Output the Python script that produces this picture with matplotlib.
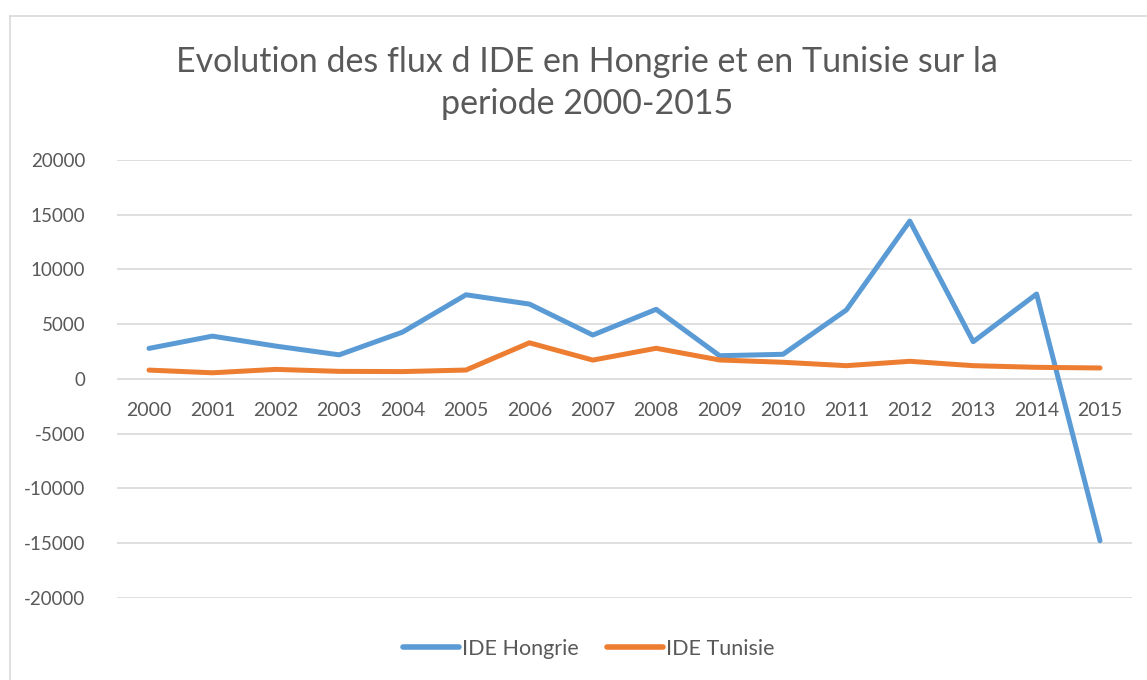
import numpy as np
import matplotlib.pyplot as plt
from matplotlib.lines import Line2D

plt.rcParams['font.family'] = ['Lato', 'DejaVu Sans']

annees = [str(a) for a in range(2000, 2016)]
ide_hongrie = [2780, 3900, 2990, 2190, 4270, 7680, 6830, 4000,
               6350, 2110, 2240, 6290, 14420, 3390, 7750, -14800]
ide_tunisie = [795, 550, 860, 680, 660, 800, 3290, 1710,
               2790, 1720, 1510, 1200, 1600, 1200, 1050, 990]
yticks = list(range(-20000, 20001, 5000))

gris = '#595959'
fig = plt.figure(figsize=(11.47, 6.80), dpi=100)
ax = fig.add_axes([117.3 / 1147, 1 - 597.6 / 680, (1131.7 - 117.3) / 1147, (597.6 - 160) / 680])

x = np.arange(len(annees))
ax.plot(x, ide_hongrie, color='#5B9BD5', lw=3.6, solid_joinstyle='round', solid_capstyle='round', label='IDE Hongrie', zorder=3)
ax.plot(x, ide_tunisie, color='#ED7D31', lw=3.6, solid_joinstyle='round', solid_capstyle='round', label='IDE Tunisie', zorder=3)

ax.set_xlim(-0.5, len(annees) - 0.5)
ax.set_ylim(-20000, 20000)
ax.set_yticks(yticks)
ax.set_yticklabels([str(v) for v in yticks], fontsize=13.5, color=gris)
ax.tick_params(axis='y', length=0, pad=23)
ax.grid(axis='y', color='#D9D9D9', lw=1.2)
ax.set_axisbelow(True)
for s in ax.spines.values():
    s.set_visible(False)

# categories placees sous l'axe zero, comme dans Excel
ax.spines['bottom'].set_position(('data', 0))
ax.set_xticks(x)
ax.set_xticklabels(annees, fontsize=14, color=gris)
ax.tick_params(axis='x', length=0, pad=17)

fig.text(587 / 1147, 1 - 83 / 680, "Evolution des flux d IDE en Hongrie et en Tunisie sur la\nperiode 2000-2015",
         ha='center', va='center', fontsize=24.5, color=gris, linespacing=1.35)

handles = [Line2D([], [], color='#5B9BD5', lw=4, solid_capstyle='round'),
           Line2D([], [], color='#ED7D31', lw=4, solid_capstyle='round')]
fig.legend(handles, ['IDE Hongrie', 'IDE Tunisie'], loc='center', bbox_to_anchor=(589 / 1147, 1 - 649 / 680),
           ncol=2, frameon=False, fontsize=15.5, labelcolor=gris, handlelength=2.6, handletextpad=0.15,
           columnspacing=1.3)

# cadre du graphique (haut et gauche visibles)
fig.add_artist(Line2D([9.5 / 1147, 9.5 / 1147], [0, 1 - 15.7 / 680], transform=fig.transFigure, color='#D9D9D9', lw=1.2))
fig.add_artist(Line2D([9.5 / 1147, 1], [1 - 15.7 / 680, 1 - 15.7 / 680], transform=fig.transFigure, color='#D9D9D9', lw=1.2))

fig.savefig('out.png', dpi=100)
